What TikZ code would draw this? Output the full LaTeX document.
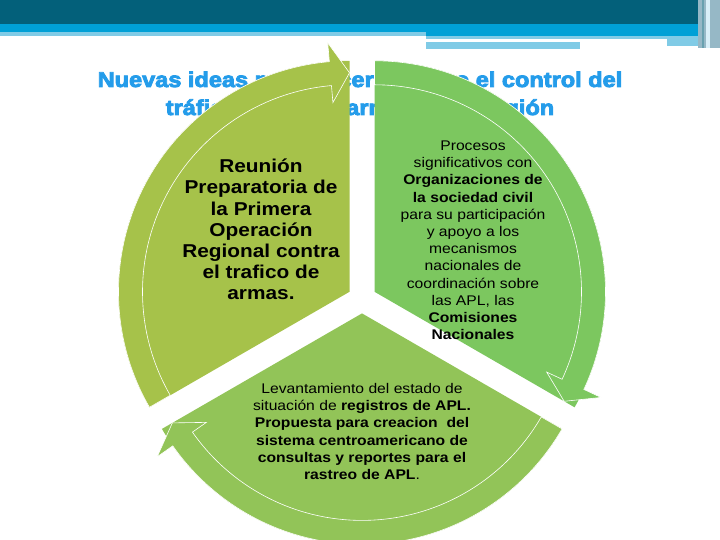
\documentclass[tikz,border=0pt]{standalone}
\usepackage{fontspec}
\setmainfont{Liberation Sans}[FakeStretch=1.12]
\newfontfamily\titlefont{Liberation Sans}[FakeStretch=1.1, FakeBold=4]
\definecolor{barteal}{RGB}{3,96,122}
\definecolor{barblue}{RGB}{0,160,214}
\definecolor{barlight}{RGB}{128,203,230}
\definecolor{barside}{RGB}{150,184,198}
\definecolor{titleblue}{RGB}{36,156,234}
\definecolor{moss}{RGB}{166,194,74}
\definecolor{leaf}{RGB}{124,199,95}
\definecolor{grass}{RGB}{146,196,88}
\tikzstyle{title-line}=[anchor=base, inner sep=0, text=titleblue, font=\titlefont\bfseries\fontsize{21.4}{25}\selectfont]
\tikzstyle{big-label}=[align=center, inner sep=0, font=\bfseries\fontsize{18.6}{21.2}\selectfont]
\tikzstyle{small-label}=[align=center, inner sep=0, font=\fontsize{14}{17.2}\selectfont]
\tikzstyle{arrow-edge}=[draw=white, line width=0.6pt]
\begin{document}
\begin{tikzpicture}[x=1pt, y=1pt]
\clip (0,0) rectangle (720,540);

% header bar
\fill[barteal] (0,516) rectangle (698,540);
\fill[barblue] (0,508) rectangle (698,516);
\fill[barblue] (426,504) rectangle (698,508);
\fill[barlight] (0,504) rectangle (426,508);
\fill[barlight] (426,501) rectangle (667,504);
\fill[barlight] (426,491) rectangle (580,498);
\fill[barlight] (667,494) rectangle (698,504);
\fill[barside] (698,492) rectangle (720,540);
\fill[barteal!60] (702,492) rectangle (704,540);
\fill[white!70!barlight] (706,492) rectangle (710,540);

% title, partly hidden by the cycle
\node[title-line] (title-top) at (360,453) {Nuevas ideas para hacer efectivo el control del};
\node[title-line] (title-bottom) at (360,425) {tráfico ilícito de armas en la región};

% segments of the cycle
\foreach \cx/\cy/\a/\col in {349.5/248.2/210/moss, 374.5/248.2/90/leaf, 362/226.6/-30/grass}
{
	\begin{scope}[shift={(\cx,\cy)}]
	\fill[\col] (0,0) -- (\a:231) arc[start angle=\a, end angle=\a-120, radius=231] -- cycle;
	\filldraw[fill=\col, arrow-edge] (\a:207) -- (\a:231)
		arc[start angle=\a, end angle=\a-115, radius=231]
		-- (\a-115:250) -- (\a-120:219) -- (\a-115:190) -- (\a-115:207)
		arc[start angle=\a-115, end angle=\a, radius=207] -- cycle;
	\end{scope}
}

\node[big-label] (reunion) at (261,310.4) {Reunión\\Preparatoria de\\la Primera\\Operación\\Regional contra\\el trafico de\\armas.};

\node[small-label] (procesos) at (473,299.6) {Procesos\\significativos con\\\textbf{Organizaciones de}\\\textbf{la sociedad civil}\\para su participación\\y apoyo a los\\mecanismos\\nacionales de\\coordinación sobre\\las APL, las\\\textbf{Comisiones}\\\textbf{Nacionales}};

\node[small-label] (levantamiento) at (362,108.6) {Levantamiento del estado de\\situación de \textbf{registros de APL.}\\\textbf{Propuesta para creacion\ \ del}\\\textbf{sistema centroamericano de}\\\textbf{consultas y reportes para el}\\\textbf{rastreo de APL}.};
\end{tikzpicture}
\end{document}
